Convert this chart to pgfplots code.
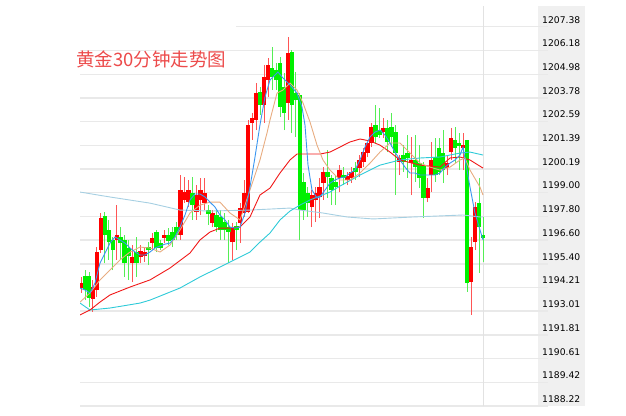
\documentclass[border=0pt]{standalone}
\usepackage{pgfplots}
\pgfplotsset{compat=1.18}
\usepackage{pgfplotstable}
\usepackage{fontspec}
\setmainfont{DejaVu Sans}
\newfontfamily\cjk{Noto Sans CJK SC}
\definecolor{upc}{HTML}{FF0000}
\definecolor{dnc}{HTML}{00F000}
\definecolor{upw}{HTML}{FF5555}
\definecolor{dnw}{HTML}{55EE55}
\definecolor{gridc}{HTML}{E9E9E9}
\definecolor{vgrid}{HTML}{E2E2E2}
\definecolor{panel}{HTML}{F0F0F0}
\definecolor{maA}{HTML}{3A96F0}
\definecolor{maB}{HTML}{E8AC80}
\definecolor{maC}{HTML}{F01818}
\definecolor{maD}{HTML}{2ECAD8}
\definecolor{maE}{HTML}{A6CFE2}
\definecolor{titlec}{HTML}{EC4B4B}

% red (up) candles: index open high low close
\pgfplotstableread{
i o h l c
0 1194.18 1194.74 1193.93 1194.43
3 1193.63 1194.59 1192.97 1194.23
4 1194.08 1196.25 1193.73 1196.00
5 1196.10 1197.97 1195.95 1197.72
9 1196.61 1198.37 1195.60 1196.86
13 1195.44 1196.35 1194.48 1195.75
15 1195.75 1196.35 1195.44 1196.05
16 1195.80 1196.20 1195.49 1196.00
18 1196.45 1196.96 1196.10 1196.71
21 1196.71 1197.11 1196.45 1196.86
25 1196.86 1199.89 1196.61 1199.13
26 1198.63 1199.79 1198.47 1199.03
27 1198.52 1199.64 1198.27 1199.13
29 1198.02 1199.38 1197.62 1198.88
30 1198.63 1199.74 1197.87 1199.13
31 1198.47 1199.74 1198.12 1198.98
33 1197.46 1198.12 1197.26 1197.97
38 1196.50 1197.46 1195.60 1197.21
40 1197.46 1198.47 1196.45 1198.22
41 1197.97 1199.64 1197.77 1198.98
42 1198.02 1202.67 1197.97 1202.42
43 1202.52 1203.02 1201.66 1202.77
44 1202.67 1204.54 1202.16 1204.03
46 1203.43 1205.45 1202.52 1204.84
47 1204.69 1205.80 1203.83 1205.45
52 1203.53 1206.86 1202.67 1206.05
58 1198.27 1199.13 1197.26 1198.88
59 1198.63 1199.28 1197.51 1198.98
60 1198.78 1199.74 1197.72 1199.28
61 1199.48 1200.29 1198.63 1200.04
65 1199.74 1200.39 1199.03 1200.14
67 1199.64 1200.04 1199.38 1199.84
68 1199.74 1200.29 1199.48 1200.04
70 1200.24 1200.90 1199.79 1200.65
71 1200.55 1201.25 1200.29 1201.05
72 1201.00 1201.56 1200.80 1201.51
73 1201.51 1202.52 1201.30 1202.31
76 1202.06 1202.77 1201.76 1202.26
80 1200.55 1200.90 1199.89 1200.75
83 1200.49 1201.81 1198.88 1200.65
87 1198.73 1199.74 1198.52 1199.23
88 1199.89 1201.56 1199.03 1200.65
92 1200.24 1200.90 1199.89 1200.49
93 1201.05 1202.26 1200.65 1201.76
96 1201.25 1202.01 1200.14 1201.40
98 1194.48 1196.76 1192.82 1196.25
99 1196.50 1198.52 1196.10 1198.27
}\redtab

% green (down) candles: index open high low close
\pgfplotstableread{
i o h l c
1 1194.79 1195.09 1193.57 1194.08
2 1194.79 1194.99 1193.22 1193.68
6 1197.82 1198.02 1195.44 1196.86
7 1197.11 1197.62 1195.60 1196.50
8 1196.61 1196.76 1195.09 1196.10
10 1196.76 1197.26 1195.60 1196.45
11 1196.61 1196.86 1194.74 1195.44
12 1196.20 1196.61 1194.59 1195.80
14 1196.00 1196.76 1194.74 1195.44
17 1196.25 1196.50 1195.34 1196.10
19 1197.01 1197.11 1196.00 1196.20
20 1196.45 1196.61 1196.10 1196.20
22 1196.86 1197.21 1196.35 1196.56
23 1197.01 1197.26 1196.25 1196.61
24 1197.26 1197.51 1196.61 1196.86
28 1198.98 1199.79 1197.62 1198.37
32 1198.12 1198.37 1197.36 1197.92
34 1197.87 1198.12 1197.01 1197.26
35 1197.77 1198.12 1196.61 1197.11
36 1197.51 1197.97 1196.61 1197.11
37 1197.26 1197.62 1195.44 1197.01
39 1197.31 1197.51 1196.10 1197.11
45 1204.08 1204.33 1202.92 1203.43
48 1205.29 1206.35 1204.18 1204.84
49 1205.19 1205.55 1204.18 1204.69
50 1205.55 1205.85 1202.82 1203.32
51 1204.33 1205.04 1202.16 1203.02
53 1206.10 1206.20 1202.01 1203.43
54 1204.03 1205.09 1201.81 1203.68
55 1203.93 1204.03 1196.61 1198.12
56 1199.53 1199.99 1197.62 1198.12
57 1198.98 1199.28 1197.77 1198.47
62 1200.04 1201.15 1198.73 1199.79
63 1199.74 1199.89 1198.37 1199.13
64 1199.53 1199.89 1198.37 1199.28
66 1199.89 1200.29 1199.38 1199.74
69 1200.24 1200.55 1199.64 1200.04
74 1202.42 1203.43 1201.51 1201.81
75 1202.16 1203.27 1201.76 1201.91
77 1202.26 1202.67 1201.05 1201.56
78 1202.31 1203.02 1201.30 1201.81
79 1202.06 1202.42 1198.88 1201.00
81 1200.90 1201.40 1200.04 1200.55
82 1201.00 1201.91 1199.74 1200.75
84 1200.65 1201.91 1199.53 1200.29
85 1200.49 1201.40 1199.23 1199.74
86 1200.39 1200.55 1197.72 1198.73
89 1200.80 1201.76 1199.53 1199.89
90 1201.25 1201.76 1199.89 1200.04
91 1201.00 1202.16 1199.48 1200.14
94 1201.66 1202.31 1200.49 1201.25
95 1201.51 1202.01 1200.14 1201.35
97 1201.66 1201.66 1193.98 1194.43
100 1198.47 1199.74 1194.94 1197.26
101 1196.86 1197.77 1195.49 1196.71
}\greentab

\begin{document}
\begin{tikzpicture}[x=1pt,y=1pt]
\path[use as bounding box] (0,0) rectangle (626,415);
\fill[panel] (538,9) rectangle (585,409);
\begin{axis}[
  at={(80pt,9pt)}, anchor=south west,
  scale only axis, width=468pt, height=400pt,
  xmin=-0.25, xmax=117.34, ymin=1188.22, ymax=1208.43,
  axis line style={draw=none},
  xtick=\empty,
  ytick={1188.22,1189.42,1190.61,1191.81,1193.01,1194.21,1195.40,1196.60,1197.80,1199.00,1200.19,1201.39,1202.59,1203.78,1204.98,1206.18,1207.38},
  yticklabels={1188.22,1189.42,1190.61,1191.81,1193.01,1194.21,1195.40,1196.60,1197.80,1199.00,1200.19,1201.39,1202.59,1203.78,1204.98,1206.18,1207.38},
  yticklabel pos=right,
  major tick length=0pt,
  ymajorgrids,
  major grid style={draw=gridc, line width=1.4pt},
  yticklabel style={anchor=west, xshift=-6pt, yshift=7pt, inner sep=0pt, font=\fontsize{9.2}{10}\selectfont},
  extra x ticks={101.01}, extra x tick labels={},
  extra x tick style={grid=major, major grid style={draw=vgrid, line width=0.8pt}},
  candle/.style={draw=none, mark=none, forget plot, error bars/.cd, y dir=plus, y explicit, error mark=none},
]
% wicks
\addplot[candle, error bar style={line width=0.9pt, draw=upw}]
  table[x=i, y=l, y error plus expr=\thisrow{h}-\thisrow{l}] {\redtab};
\addplot[candle, error bar style={line width=0.9pt, draw=dnw}]
  table[x=i, y=l, y error plus expr=\thisrow{h}-\thisrow{l}] {\greentab};
% bodies
\addplot[candle, error bar style={line width=4.6pt, draw=upc}]
  table[x=i, y=o, y error plus expr=\thisrow{c}-\thisrow{o}] {\redtab};
\addplot[candle, error bar style={line width=4.6pt, draw=dnc}]
  table[x=i, y=c, y error plus expr=\thisrow{o}-\thisrow{c}] {\greentab};
% long average
\addplot[maE, line width=0.9pt, mark=none] coordinates {
(-0.25,1199.03) (7.29,1198.78) (17.34,1198.47) (24.87,1198.12) (32.41,1198.07) (42.46,1198.12) (52.51,1198.22) (55.03,1198.12) (60.80,1197.97) (66.83,1197.77) (73.37,1197.67) (83.42,1197.77) (95.98,1197.87) (100.25,1197.77) (101.01,1197.77)};
% cyan average
\addplot[maD, line width=0.9pt, mark=none] coordinates {
(-0.25,1193.42) (2.26,1193.07) (7.29,1193.17) (14.82,1193.42) (17.34,1193.57) (24.87,1194.18) (29.90,1194.74) (37.44,1195.49) (42.46,1196.00) (44.97,1196.50) (47.49,1196.96) (50.00,1197.62) (52.51,1198.07) (55.03,1198.37) (57.54,1198.63) (60.05,1198.83) (62.56,1199.03) (65.08,1199.33) (70.10,1199.89) (75.13,1200.39) (80.15,1200.65) (85.18,1200.75) (90.20,1200.80) (95.23,1201.00) (97.74,1201.05) (101.01,1200.90)};
% red average
\addplot[maC, line width=0.9pt, mark=none] coordinates {
(-0.25,1192.82) (2.26,1193.07) (4.77,1193.47) (7.29,1193.83) (12.31,1194.23) (17.34,1194.59) (22.36,1195.19) (27.39,1195.95) (29.90,1196.61) (32.41,1197.01) (34.92,1197.21) (37.44,1197.21) (39.95,1197.26) (42.46,1197.77) (44.97,1198.88) (47.49,1199.23) (50.00,1199.99) (52.51,1200.65) (54.27,1200.95) (60.05,1200.95) (62.56,1201.05) (67.59,1201.56) (70.10,1201.71) (72.61,1201.61) (75.13,1201.40) (77.64,1201.05) (80.15,1200.65) (85.18,1200.39) (90.20,1200.29) (92.71,1200.75) (95.23,1200.80) (97.74,1200.65) (101.01,1200.24)};
% tan average
\addplot[maB, line width=0.9pt, mark=none] coordinates {
(-0.25,1193.47) (2.26,1193.93) (4.77,1194.59) (7.29,1195.09) (9.80,1195.60) (12.31,1196.00) (14.82,1196.25) (17.34,1196.20) (19.85,1196.00) (22.36,1196.35) (24.87,1197.11) (27.39,1197.97) (29.90,1198.37) (32.41,1198.52) (34.92,1198.52) (37.44,1197.97) (39.95,1197.62) (42.46,1199.13) (44.97,1200.65) (46.73,1202.01) (47.49,1202.67) (49.25,1204.03) (50.75,1204.18) (52.51,1204.54) (54.27,1204.18) (55.78,1203.53) (57.54,1202.57) (59.30,1201.40) (60.80,1200.65) (62.56,1200.14) (65.08,1199.64) (67.59,1199.64) (70.10,1199.99) (72.61,1200.49) (75.13,1201.05) (77.64,1201.51) (80.15,1201.51) (82.66,1201.00) (85.18,1200.49) (87.69,1200.29) (90.20,1200.14) (92.71,1200.29) (95.23,1200.65) (96.48,1200.75) (97.74,1200.14) (100.25,1199.28) (101.01,1198.88)};
% blue average
\addplot[maA, line width=0.9pt, mark=none] coordinates {
(-0.25,1194.18) (1.0,1194.08) (2.26,1193.93) (3.52,1194.43) (4.77,1195.44) (6.03,1195.95) (7.29,1196.45) (8.54,1196.76) (9.80,1196.61) (11.06,1196.45) (12.31,1196.20) (13.57,1196.00) (14.82,1195.85) (16.08,1195.85) (17.34,1196.00) (18.59,1196.20) (19.85,1196.30) (21.11,1196.40) (22.36,1196.45) (23.62,1196.76) (24.87,1197.26) (26.13,1197.87) (27.39,1198.63) (28.64,1198.93) (29.90,1198.93) (31.16,1198.78) (32.41,1198.52) (33.67,1198.27) (34.92,1197.87) (36.18,1197.62) (37.44,1197.26) (38.69,1197.21) (39.95,1197.26) (41.21,1197.97) (42.46,1199.28) (43.72,1200.80) (44.97,1202.42) (46.23,1203.83) (47.49,1204.69) (48.74,1204.94) (49.50,1205.09) (50.75,1204.79) (52.51,1204.44) (54.27,1204.03) (55.53,1203.32) (56.28,1202.42) (57.04,1200.39) (58.04,1199.13) (59.30,1198.73) (60.05,1198.78) (61.31,1199.13) (62.56,1199.48) (63.82,1199.64) (65.08,1199.74) (66.33,1199.79) (67.59,1199.99) (68.84,1200.14) (70.10,1200.65) (71.36,1201.30) (72.61,1201.81) (73.87,1202.06) (75.13,1202.16) (76.38,1201.91) (77.64,1201.51) (78.89,1201.05) (80.15,1200.65) (81.41,1200.29) (82.66,1199.99) (83.92,1199.99) (85.18,1199.89) (87.69,1199.89) (88.94,1199.89) (90.20,1199.99) (91.46,1200.29) (92.71,1200.49) (93.97,1200.65) (95.23,1200.90) (95.98,1201.30) (97.74,1199.28) (98.99,1197.97) (101.01,1196.61)};
\end{axis}
\fill[white] (79,383) rectangle (236,392);
\node[anchor=west, inner sep=0pt, text=titlec, font=\cjk\fontsize{18.5}{18.5}\selectfont] at (76,356) {黄金30分钟走势图};
\end{tikzpicture}
\end{document}
